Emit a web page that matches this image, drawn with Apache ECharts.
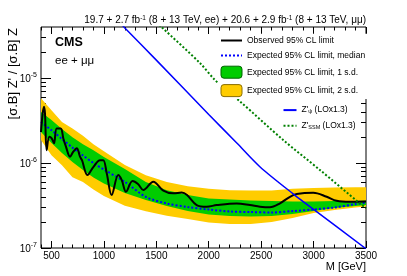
<!DOCTYPE html>
<html><head><meta charset="utf-8">
<script src="https://cdn.jsdelivr.net/npm/echarts@6/dist/echarts.min.js"></script>
<style>html,body{margin:0;padding:0;background:#fff;}#c{width:407px;height:276px;}</style>
</head><body><div id="c"></div>
<script>
// ---- data ----
const massGrid  = [400,500,600,700,800,900,1000,1200,1400,1600,1800,2000,2200,2400,2600,2800,3000,3200,3400,3500];
const expMedian = [3.04e-6,2.44e-6,1.92e-6,1.52e-6,1.23e-6,1.0e-6,8.4e-7,6.0e-7,4.0e-7,3.34e-7,3.04e-7,2.84e-7,2.69e-7,2.65e-7,2.62e-7,2.72e-7,2.84e-7,3.0e-7,3.29e-7,3.43e-7];
const exp1Up    = [3.98e-6,3.21e-6,2.51e-6,2.02e-6,1.67e-6,1.42e-6,1.18e-6,8.5e-7,6.0e-7,4.8e-7,4.2e-7,3.82e-7,3.72e-7,3.62e-7,3.57e-7,3.52e-7,3.52e-7,3.57e-7,3.57e-7,3.62e-7];
const exp1Down  = [2.32e-6,1.72e-6,1.31e-6,1.03e-6,8.27e-7,6.75e-7,5.74e-7,4.44e-7,3.67e-7,3.12e-7,2.72e-7,2.48e-7,2.38e-7,2.35e-7,2.38e-7,2.51e-7,2.72e-7,2.95e-7,3.12e-7,3.2e-7];
const exp2Up    = [5.8e-6,4.2e-6,3.05e-6,2.55e-6,2.1e-6,1.67e-6,1.38e-6,9.5e-7,7.2e-7,6.0e-7,5.35e-7,5.0e-7,4.8e-7,4.75e-7,4.75e-7,5.0e-7,5.1e-7,5.15e-7,5.2e-7,5.2e-7];
const exp2Down  = [1.87e-6,1.24e-6,9.4e-7,6.8e-7,6.0e-7,4.9e-7,4.1e-7,3.15e-7,2.7e-7,2.4e-7,2.2e-7,2.0e-7,1.92e-7,1.92e-7,2.02e-7,2.25e-7,2.58e-7,2.8e-7,3.0e-7,3.08e-7];

const obsMass  = [400,416,429,438,454,479,502,524,550,588,613,638,677,708,741,772,791,843,899,963,994,1027,1074,1137,1170,1211,1273,1325,1376,1471,1567,1662,1742,1793,1885,1980,2076,2267,2393,2489,2584,2680,2775,2839,2997,3125,3220,3347,3500];
const obsLimit = [2.32e-6,3.84e-6,4.6e-6,3.84e-6,1.42e-6,2.04e-6,1.95e-6,1.71e-6,2.56e-6,2.56e-6,1.95e-6,1.56e-6,1.19e-6,1.36e-6,1.49e-6,1.19e-6,1.08e-6,7.22e-7,8.97e-7,1.08e-6,1.08e-6,7.57e-7,4.2e-7,7.22e-7,6.31e-7,4.6e-7,6.14e-7,5.66e-7,4.81e-7,6.03e-7,4.75e-7,4.4e-7,4.5e-7,4.2e-7,3.2e-7,3.06e-7,3.2e-7,3.34e-7,3.2e-7,3.06e-7,3.01e-7,3.36e-7,4.01e-7,4.32e-7,4.47e-7,4.01e-7,3.6e-7,3.5e-7,3.52e-7];

const zpsiMass = [1100,1200,1500,2000,2270,2490,2820,3000,3500];
const zpsiXsec = [5.3e-5,3.9e-5,1.63e-5,3.74e-6,1.71e-6,9.0e-7,4.2e-7,2.85e-7,9.8e-8];
const zssmMass = [1500,1550,1920,2060,2300,2710,3060,3440,3500];
const zssmXsec = [4.6e-5,4.0e-5,1.49e-5,9.5e-6,5.3e-6,1.87e-6,8.3e-7,3.36e-7,2.95e-7];

const xMajorTicks = [500,1000,1500,2000,2500,3000,3500];
const yMajorExps  = [-7,-6,-5];
const seriesNames = ['Observed 95% CL limit','Expected 95% CL limit, median','Expected 95% CL limit, 1 s.d.','Expected 95% CL limit, 2 s.d.',"Z'psi (LOx1.3)","Z'SSM (LOx1.3)"];

// ---- helpers ----
const FONT = '"Liberation Sans", Arial, Helvetica, sans-serif';
const Y_MIN = 1e-7, Y_MAX = 4e-5;
const LMAX = Math.log10(Y_MAX);
const xMinor = []; for (let m = 400; m <= 3500; m += 100) if (m % 500) xMinor.push(m);
const yMinor = []; for (let e = -7; e <= -5; e++) for (let k = 2; k <= 9; k++) { const v = Math.log10(k) + e; if (v < LMAX) yMinor.push(v); }
const pairs = (xs, ys) => xs.map((x, i) => [x, ys[i]]);
const noSym = { color: 'rgba(0,0,0,0)', borderWidth: 0, opacity: 0 };

function bandSeries(name, up, down, color) {
  return {
    name, type: 'custom', xAxisIndex: 0, yAxisIndex: 0, clip: true, z: 1,
    itemStyle: { color },
    data: [[massGrid[0], up[0]]],
    renderItem: (params, api) => {
      const pts = [];
      massGrid.forEach((m, i) => pts.push(api.coord([m, up[i]])));
      for (let i = massGrid.length - 1; i >= 0; i--) pts.push(api.coord([massGrid[i], down[i]]));
      return { type: 'polygon', shape: { points: pts }, style: { fill: color } };
    }
  };
}
function xAx(pos, ticks, len, labels) {
  return { type: 'value', min: 400, max: 3500, position: pos, gridIndex: 0,
    axisLine: { show: false, onZero: false }, splitLine: { show: false },
    axisTick: { show: true, inside: true, length: len, customValues: ticks, lineStyle: { color: '#000', width: 1 } },
    axisLabel: labels ? { show: true, customValues: ticks, margin: 3, fontSize: 10, color: '#000', fontFamily: FONT, formatter: v => String(v) } : { show: false } };
}
function yAx(pos, ticks, len, labels) {
  return { type: 'value', min: -7, max: LMAX, position: pos, gridIndex: 0,
    axisLine: { show: false, onZero: false }, splitLine: { show: false },
    axisTick: { show: true, inside: true, length: len, customValues: ticks, lineStyle: { color: '#000', width: 1 } },
    axisLabel: labels ? { show: true, customValues: ticks, margin: 4, color: '#000', fontFamily: FONT,
      formatter: v => '{b|10}{s|' + Math.round(v) + '}',
      rich: { b: { fontSize: 10, fontFamily: FONT, color: '#000', lineHeight: 13, verticalAlign: 'bottom' },
              s: { fontSize: 7, fontFamily: FONT, color: '#000', lineHeight: 13, verticalAlign: 'top', padding: [0, 0, 4, 0] } } } : { show: false } };
}

const chart = echarts.init(document.getElementById('c'), null, { renderer: 'canvas' });
chart.setOption({
  animation: false,
  backgroundColor: '#fff',
  grid: { left: 41, right: 41, top: 27, bottom: 28, show: true, borderColor: '#000', borderWidth: 1, backgroundColor: 'transparent', containLabel: false },
  xAxis: [ xAx('bottom', xMajorTicks, 7, true), xAx('bottom', xMinor, 3.5, false), xAx('top', xMajorTicks, 7, false), xAx('top', xMinor, 3.5, false) ],
  yAxis: [
    { type: 'log', logBase: 10, min: Y_MIN, max: Y_MAX, show: false, gridIndex: 0 },
    yAx('left', yMajorExps, 10, true), yAx('left', yMinor, 5, false), yAx('right', yMajorExps, 10, false), yAx('right', yMinor, 5, false)
  ],
  legend: [{
    orient: 'vertical', left: 218, top: 33.7, padding: [2, 4, 2, 2], itemWidth: 21, itemHeight: 12, itemGap: 5.4, itemTextGap: 5,
    backgroundColor: '#fff', selectedMode: false, z: 10,
    textStyle: { fontSize: 8.5, color: '#000', fontFamily: FONT },
    data: [ { name: seriesNames[0], itemStyle: noSym }, { name: seriesNames[1], itemStyle: noSym },
      { name: seriesNames[2], itemStyle: { borderColor: '#006600', borderWidth: 1 } },
      { name: seriesNames[3], itemStyle: { borderColor: '#8a6d00', borderWidth: 1 } } ]
  }, {
    orient: 'vertical', left: 282.5, top: 105.3, padding: 0, itemWidth: 13, itemHeight: 12, itemGap: 6, itemTextGap: 2.5,
    selectedMode: false, z: 10,
    textStyle: { fontSize: 8.5, color: '#000', fontFamily: FONT,
      rich: { sub: { fontSize: 5.5, fontFamily: FONT, color: '#000', verticalAlign: 'bottom', lineHeight: 9 } } },
    formatter: n => n === seriesNames[4] ? "Z'{sub|ψ} (LOx1.3)" : "Z'{sub|SSM} (LOx1.3)",
    data: [ { name: seriesNames[4], itemStyle: noSym }, { name: seriesNames[5], itemStyle: noSym } ]
  }],
  series: [
    bandSeries(seriesNames[3], exp2Up, exp2Down, '#ffcc00'),
    bandSeries(seriesNames[2], exp1Up, exp1Down, '#00cc00'),
    { name: seriesNames[1], type: 'line', xAxisIndex: 0, yAxisIndex: 0, data: pairs(massGrid, expMedian), showSymbol: false, symbol: 'none', smooth: 0.3, z: 3,
      lineStyle: { color: '#0000ff', width: 2, type: [2, 2] }, itemStyle: { color: '#0000ff' } },
    { name: seriesNames[0], type: 'line', xAxisIndex: 0, yAxisIndex: 0, data: pairs(obsMass, obsLimit), showSymbol: false, symbol: 'none', smooth: 0.35, z: 4,
      lineStyle: { color: '#000', width: 2 }, itemStyle: { color: '#000' } },
    { name: seriesNames[4], type: 'line', xAxisIndex: 0, yAxisIndex: 0, data: pairs(zpsiMass, zpsiXsec), showSymbol: false, symbol: 'none', smooth: 0.3, clip: true, z: 5,
      lineStyle: { color: '#0000ff', width: 1.5 }, itemStyle: { color: '#0000ff' } },
    { name: seriesNames[5], type: 'line', xAxisIndex: 0, yAxisIndex: 0, data: pairs(zssmMass, zssmXsec), showSymbol: false, symbol: 'none', smooth: 0.3, clip: true, z: 5,
      lineStyle: { color: '#008000', width: 2, type: [2, 2] }, itemStyle: { color: '#008000' } }
  ],
  graphic: [
    { type: 'text', x: 366, y: 20.5, z: 100, style: { text: '19.7 + 2.7 fb{sup|-1} (8 + 13 TeV, ee) + 20.6 + 2.9 fb{sup|-1} (8 + 13 TeV, μμ)',
      align: 'right', verticalAlign: 'middle', fontSize: 10, fontFamily: FONT, fill: '#000',
      rich: { sup: { fontSize: 6.5, fontFamily: FONT, fill: '#000', verticalAlign: 'top', lineHeight: 12 } } } },
    { type: 'text', x: 55, y: 42.5, z: 100, style: { text: 'CMS', align: 'left', verticalAlign: 'middle', fontSize: 12.5, fontWeight: 'bold', fontFamily: FONT, fill: '#000' } },
    { type: 'text', x: 55, y: 61, z: 100, style: { text: 'ee + μμ', align: 'left', verticalAlign: 'middle', fontSize: 11.5, fontFamily: FONT, fill: '#000' } },
    { type: 'text', x: 366, y: 266.5, z: 100, style: { text: 'M [GeV]', align: 'right', verticalAlign: 'middle', fontSize: 11, fontFamily: FONT, fill: '#000' } },
    { type: 'text', x: 13, y: 28, rotation: Math.PI / 2, z: 100, style: { text: "[σ.B] Z' / [σ.B] Z", align: 'right', verticalAlign: 'middle', fontSize: 13, fontFamily: FONT, fill: '#000' } }
  ]
});
</script></body></html>
